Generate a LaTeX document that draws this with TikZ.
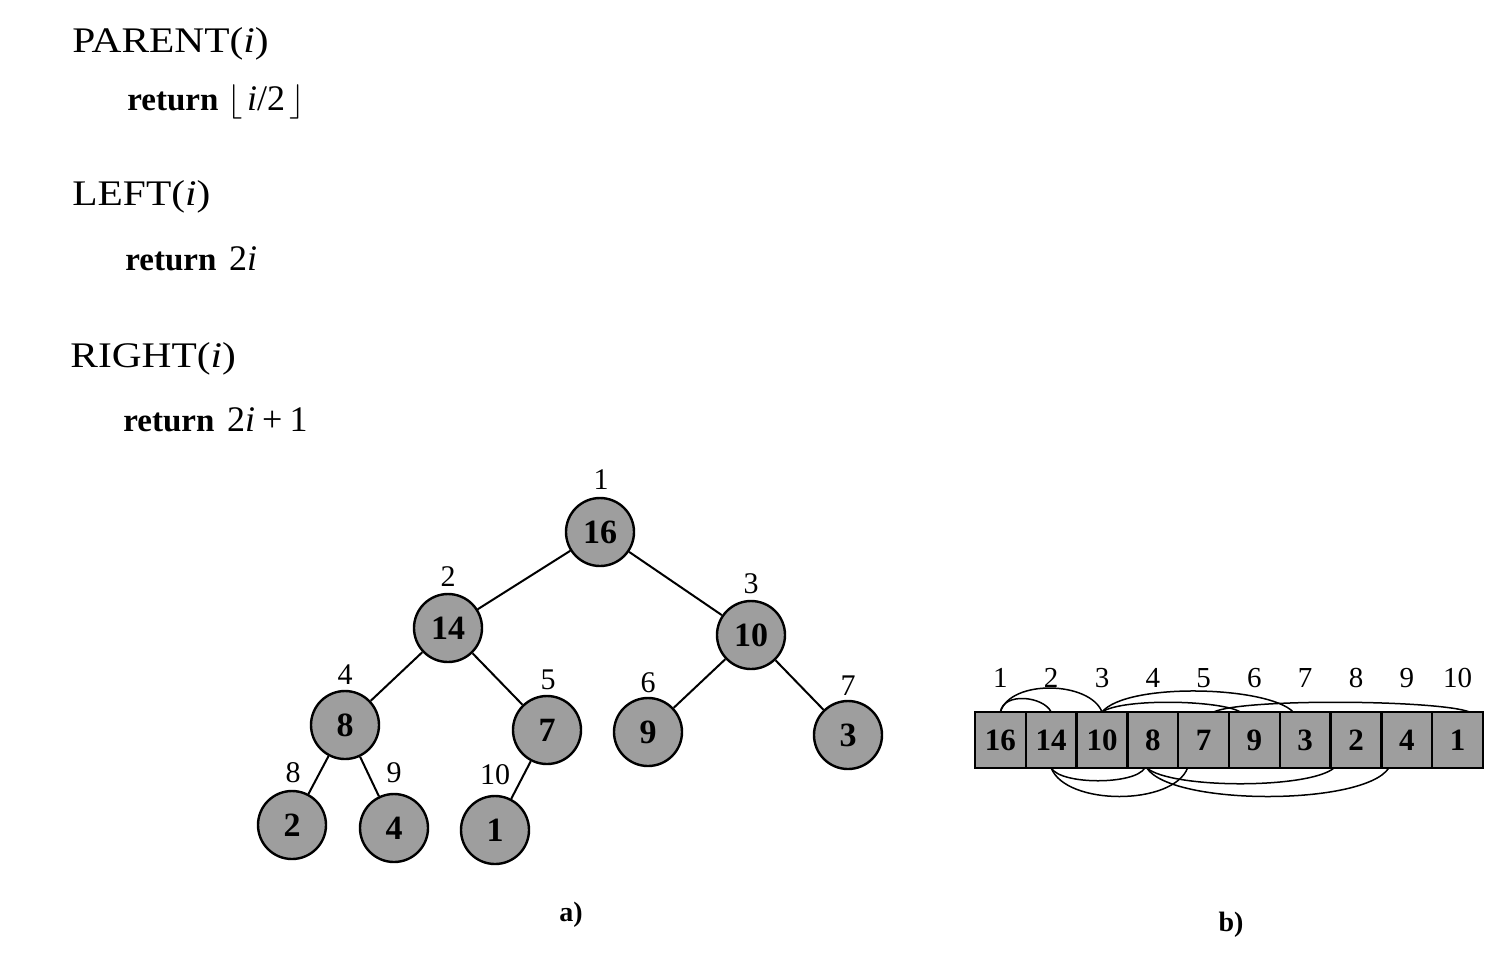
\documentclass[tikz,border=0pt]{standalone}
\usepackage{fontspec}
\setmainfont{Liberation Serif}
\definecolor{heapgray}{RGB}{158,158,158}
\newcommand{\kw}[1]{{\fontsize{16.5}{16.5}\selectfont\bfseries #1}}
\newcommand{\hd}[1]{\scalebox{1.15}[1]{#1}}
\begin{document}
\begin{tikzpicture}[x=0.5pt,y=-0.5pt,
  heapnode/.style={circle,draw=black,line width=1.2pt,fill=heapgray,minimum size=34pt,inner sep=0pt,font=\fontsize{17}{17}\selectfont\bfseries},
  idx/.style={inner sep=0pt,font=\fontsize{15}{15}\selectfont},
  aidx/.style={inner sep=0pt,font=\fontsize{14.5}{14.5}\selectfont},
  cell/.style={rectangle,draw=black,line width=1.2pt,fill=heapgray,minimum width=25.4pt,minimum height=28pt,inner sep=0pt,outer sep=0pt,font=\fontsize{15.5}{15.5}\selectfont\bfseries},
  edge/.style={line width=1pt},
  arc/.style={line width=0.75pt},
  code/.style={anchor=base west,inner sep=0pt,font=\fontsize{18}{18}\selectfont},
  caption/.style={inner sep=0pt,font=\fontsize{14}{14}\selectfont\bfseries}]
\useasboundingbox (0,0) rectangle (1510,960);
% pseudo-code
\node[code] (p1) at (72,52) {\hd{PARENT(\textit{i})}};
\node[code] (p2) at (127,110) {\kw{return}\hspace{0.25em}$\bigl\lfloor$\hspace{0.12em}\textit{i}/2\hspace{0.12em}$\bigr\rfloor$};
\node[code] (l1) at (72,205) {\hd{LEFT(\textit{i})}};
\node[code] (l2) at (125,270) {\kw{return}\hspace{0.35em}2\textit{i}};
\node[code] (r1) at (70,367) {\hd{RIGHT(\textit{i})}};
\node[code] (r2) at (123,431) {\kw{return}\hspace{0.35em}2\textit{i}\hspace{0.2em}+\hspace{0.2em}1};
% tree
\node[heapnode] (n1) at (600,532) {16};
\node[heapnode] (n2) at (448,628) {14};
\node[heapnode] (n3) at (751,635) {10};
\node[heapnode] (n4) at (345,725) {8};
\node[heapnode] (n5) at (547,730) {7};
\node[heapnode] (n6) at (648,732) {9};
\node[heapnode] (n7) at (848,735) {3};
\node[heapnode] (n8) at (292,825) {2};
\node[heapnode] (n9) at (394,828) {4};
\node[heapnode] (n10) at (495,830) {1};
\draw[edge] (n1) -- (n2);
\draw[edge] (n1) -- (n3);
\draw[edge] (n2) -- (n4);
\draw[edge] (n2) -- (n5);
\draw[edge] (n3) -- (n6);
\draw[edge] (n3) -- (n7);
\draw[edge] (n4) -- (n8);
\draw[edge] (n4) -- (n9);
\draw[edge] (n5) -- (n10);
\node[idx] (t1) at (601,480) {1};
\node[idx] (t2) at (448,577) {2};
\node[idx] (t3) at (751,584) {3};
\node[idx] (t4) at (345,675) {4};
\node[idx] (t5) at (548,680) {5};
\node[idx] (t6) at (648,683) {6};
\node[idx] (t7) at (848,686) {7};
\node[idx] (t8) at (293,773) {8};
\node[idx] (t9) at (394,773) {9};
\node[idx] (t10) at (495,775) {10};
\node[caption] (ca) at (571,915) {a)};
% array
\foreach \v [count=\k] in {16,14,10,8,7,9,3,2,4,1}{
  \node[cell] (c\k) at ({975+50.8*(\k-0.5)},740) {\v};
  \node[aidx] (ai\k) at ({975+50.8*(\k-0.5)},678) {\k};
}
\draw[arc] (c1.north) .. controls +(3,-20) and +(-8,-16) .. (c2.north);
\draw[arc] (c1.north) .. controls +(10,-33) and +(-12,-31) .. (c3.north);
\draw[arc] (c3.north) .. controls +(20,-14) and +(-20,-12) .. ([xshift=-7pt]c6.north);
\draw[arc] (c3.north) .. controls +(25,-30) and +(-25,-26) .. ([xshift=-6pt]c7.north);
\draw[arc] ([xshift=5pt]c5.north) .. controls +(30,-14) and +(-30,-12) .. ([xshift=6pt]c10.north);
\draw[arc] (c2.south) .. controls +(10,17) and +(-10,17) .. ([xshift=-4pt]c4.south);
\draw[arc] (c2.south) .. controls +(15,38) and +(-15,38) .. ([xshift=-8pt]c5.south);
\draw[arc] ([xshift=-3pt]c4.south) .. controls +(25,21) and +(-25,21) .. ([xshift=-11pt]c8.south);
\draw[arc] ([xshift=-3pt]c4.south) .. controls +(25,38) and +(-25,38) .. ([xshift=-9pt]c9.south);
\node[caption] (cb) at (1231,925) {b)};
\end{tikzpicture}
\end{document}
